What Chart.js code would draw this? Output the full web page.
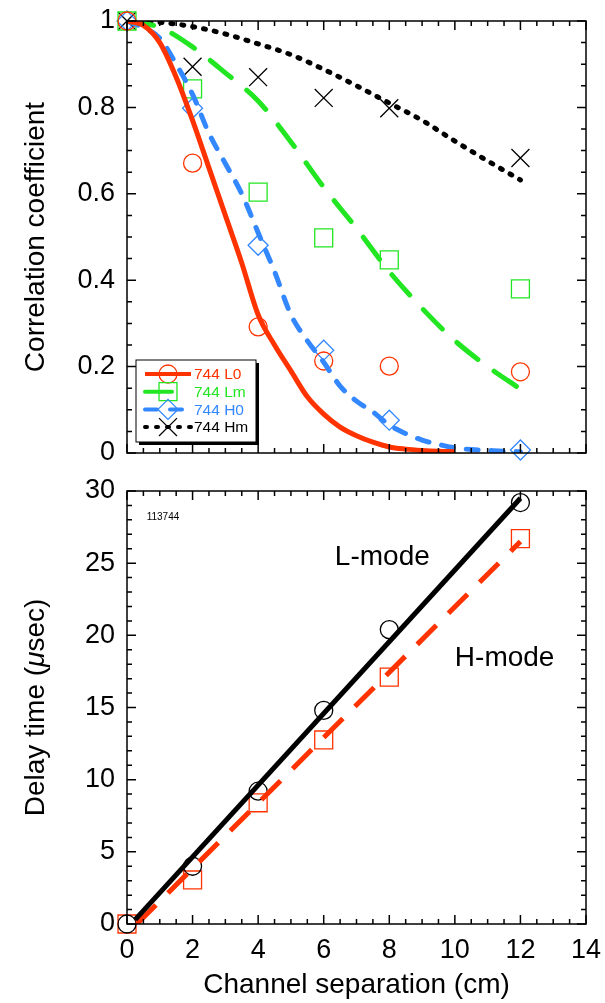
<!DOCTYPE html>
<html>
<head>
<meta charset="utf-8">
<script src="https://cdn.jsdelivr.net/npm/chart.js@4.4.1/dist/chart.umd.min.js"></script>
<style>
  body { margin: 0; background: #fff; }
  canvas { display: block; }
</style>
</head>
<body>
<canvas id="corr_chart" width="605" height="470"></canvas>
<canvas id="delay_chart" width="605" height="533"></canvas>
<script>
// measured points (channel separation in cm)
var sepX = [0, 2, 4, 6, 8, 12];
var corrL0 = [1, 0.671, 0.292, 0.213, 0.201, 0.188];
var corrLm = [1, 0.843, 0.604, 0.498, 0.447, 0.380];
var corrH0 = [1, 0.798, 0.481, 0.238, 0.076, 0.007];
var corrHm = [1, 0.894, 0.870, 0.822, 0.798, 0.683];

// fitted curves
var fitL0X = [0, 0.5, 1, 1.5, 2, 2.5, 3, 3.5, 4, 4.5, 5, 5.5, 6, 6.5, 7, 7.5, 8, 8.5, 9, 9.5, 10];
var fitL0Y = [1, 0.99, 0.95, 0.87, 0.77, 0.66, 0.55, 0.44, 0.32, 0.25, 0.19, 0.13, 0.09, 0.06, 0.04, 0.025, 0.014, 0.009, 0.006, 0.004, 0.003];
var fitLmX = [0, 1, 2, 3, 4, 5, 6, 7, 8, 9, 10, 11, 12];
var fitLmY = [1, 0.985, 0.94, 0.88, 0.815, 0.72, 0.615, 0.52, 0.42, 0.335, 0.26, 0.2, 0.148];
var fitH0X = [0, 0.5, 1, 1.5, 2, 2.5, 3, 3.5, 4, 4.5, 5, 5.5, 6, 6.5, 7, 7.5, 8, 8.5, 9, 9.5, 10, 10.5, 11, 11.5, 12];
var fitH0Y = [1, 0.985, 0.96, 0.9, 0.83, 0.74, 0.67, 0.6, 0.51, 0.42, 0.32, 0.26, 0.21, 0.155, 0.12, 0.095, 0.065, 0.045, 0.03, 0.02, 0.012, 0.008, 0.006, 0.004, 0.003];
var fitHmX = [0, 1, 2, 3, 4, 5, 6, 7, 8, 9, 10, 11, 12];
var fitHmY = [1, 0.997, 0.987, 0.97, 0.947, 0.922, 0.888, 0.85, 0.81, 0.77, 0.722, 0.676, 0.632];

// delay times (usec)
var delayL = [0, 4.0, 9.2, 14.8, 20.4, 29.2];
var delayH = [0, 3.05, 8.4, 12.75, 17.1, 26.7];
var lineLX = [0.25, 12];
var lineLY = [0.3, 29.5];
var lineHX = [0.3, 12];
var lineHY = [0, 26.5];

var legendLabels = ['744 L0', '744 Lm', '744 H0', '744 Hm'];

/////////////////////////////////////////////////////////

var FONT = "'Liberation Sans', Arial, Helvetica, sans-serif";
Chart.defaults.font.family = FONT;
Chart.defaults.color = '#000';

var RED = '#ff3300', GREEN = '#22e622', BLUE = '#3388ff', BLACK = '#000000';

function xy(xs, ys) {
  return xs.map(function(x, i) { return { x: x, y: ys[i] }; });
}

var corrStyles = [
  { label: legendLabels[0], color: RED,   dash: [],      cap: 'butt',  point: 'circle',   r: 9 },
  { label: legendLabels[1], color: GREEN, dash: [27, 20], cap: 'round', point: 'rect',     r: 12.7 },
  { label: legendLabels[2], color: BLUE,  dash: [12, 13], cap: 'round', point: 'rectRot',  r: 10 },
  { label: legendLabels[3], color: BLACK, dash: [2, 9],   cap: 'round', point: 'crossRot', r: 12.7 }
];

function fitSet(xs, ys, s) {
  return {
    data: xy(xs, ys),
    borderColor: s.color,
    borderWidth: 5,
    borderDash: s.dash,
    borderCapStyle: s.cap,
    pointRadius: 0,
    fill: false,
    cubicInterpolationMode: 'monotone'
  };
}

function markSet(xs, ys, s) {
  return {
    data: xy(xs, ys),
    showLine: false,
    borderColor: s.color,
    backgroundColor: 'rgba(0,0,0,0)',
    pointStyle: s.point,
    pointRadius: s.r,
    pointBorderWidth: 1.3,
    clip: false
  };
}

// keep the plot box fixed: no extra padding from tick labels
function fixWidth(w) {
  return function(s) {
    s.width = w;
    s.paddingTop = 0; s.paddingBottom = 0; s.paddingLeft = 0; s.paddingRight = 0;
  };
}
function fixHeight(h) {
  return function(s) {
    s.height = h;
    s.paddingTop = 0; s.paddingBottom = 0; s.paddingLeft = 0; s.paddingRight = 0;
  };
}

function plainNum(v) {
  return String(Math.round(v * 100) / 100);
}

// inward ticks on all four sides + frame
var frameTicks = {
  id: 'frameTicks',
  afterDatasetsDraw: function(chart, args, o) {
    var a = chart.chartArea, xs = chart.scales.x, ys = chart.scales.y, ctx = chart.ctx;
    ctx.save();
    ctx.strokeStyle = '#000';
    ctx.lineWidth = 1.5;
    ctx.strokeRect(a.left, a.top, a.right - a.left, a.bottom - a.top);
    ctx.beginPath();
    var i, v, p, len, n;
    n = Math.round((xs.max - xs.min) / o.xMinor);
    for (i = 0; i <= n; i++) {
      v = xs.min + i * o.xMinor;
      len = Math.abs(v / o.xMajor - Math.round(v / o.xMajor)) < 1e-6 ? 9 : 5;
      p = xs.getPixelForValue(v);
      ctx.moveTo(p, a.bottom); ctx.lineTo(p, a.bottom - len);
      ctx.moveTo(p, a.top); ctx.lineTo(p, a.top + len);
    }
    n = Math.round((ys.max - ys.min) / o.yMinor);
    for (i = 0; i <= n; i++) {
      v = ys.min + i * o.yMinor;
      len = Math.abs(v / o.yMajor - Math.round(v / o.yMajor)) < 1e-6 ? 9 : 5;
      p = ys.getPixelForValue(v);
      ctx.moveTo(a.left, p); ctx.lineTo(a.left + len, p);
      ctx.moveTo(a.right, p); ctx.lineTo(a.right - len, p);
    }
    ctx.stroke();
    ctx.restore();
  }
};

// boxed legend with drop shadow, line sample + marker
var boxLegend = {
  id: 'boxLegend',
  afterDraw: function(chart, args, o) {
    var ctx = chart.ctx, a = chart.chartArea;
    var left = a.left + 9, top = a.bottom - 93, w = 120, h = 82;
    ctx.save();
    ctx.fillStyle = '#000';
    ctx.fillRect(left + 3, top + 3, w, h);
    ctx.fillStyle = '#fff';
    ctx.fillRect(left, top, w, h);
    ctx.strokeStyle = '#000';
    ctx.lineWidth = 1;
    ctx.strokeRect(left, top, w, h);
    o.items.forEach(function(s, i) {
      var y = top + 14 + i * 17.7;
      ctx.save();
      ctx.strokeStyle = s.color;
      ctx.lineWidth = 4;
      ctx.lineCap = s.cap;
      ctx.setLineDash(s.dash);
      ctx.beginPath();
      ctx.moveTo(left + 9, y);
      ctx.lineTo(left + 55, y);
      ctx.stroke();
      ctx.restore();
      ctx.save();
      ctx.strokeStyle = s.color;
      ctx.fillStyle = 'rgba(0,0,0,0)';
      ctx.lineWidth = 1.3;
      Chart.helpers.drawPoint(ctx, { pointStyle: s.point, radius: s.r, borderWidth: 1.3, rotation: 0 }, left + 32, y);
      ctx.restore();
      ctx.fillStyle = s.color;
      ctx.font = "15.5px " + FONT;
      ctx.textBaseline = 'middle';
      ctx.textAlign = 'left';
      ctx.fillText(s.label, left + 58, y + 1);
    });
    ctx.restore();
  }
};

// free text notes placed in data coordinates
var notes = {
  id: 'notes',
  afterDraw: function(chart, args, o) {
    var ctx = chart.ctx;
    ctx.save();
    ctx.fillStyle = '#000';
    ctx.textBaseline = 'middle';
    ctx.textAlign = 'left';
    o.items.forEach(function(n) {
      ctx.font = n.size + "px " + FONT;
      ctx.fillText(n.text, chart.scales.x.getPixelForValue(n.x), chart.scales.y.getPixelForValue(n.y));
    });
    // y axis title with italic mu
    if (o.yTitle) {
      var a = chart.chartArea;
      var parts = o.yTitle;
      ctx.translate(36, (a.top + a.bottom) / 2);
      ctx.rotate(-Math.PI / 2);
      var total = 0;
      parts.forEach(function(p) {
        ctx.font = (p.italic ? 'italic ' : '') + "28px " + FONT;
        total += ctx.measureText(p.text).width;
      });
      var x = -total / 2;
      parts.forEach(function(p) {
        ctx.font = (p.italic ? 'italic ' : '') + "28px " + FONT;
        ctx.fillText(p.text, x, 0);
        x += ctx.measureText(p.text).width;
      });
    }
    ctx.restore();
  }
};

var tickFont = { size: 27 };

/////////////////////////////////////////////////////////

var corrCanvas = document.getElementById('corr_chart');
var corrData = {
  datasets: [
    fitSet(fitL0X, fitL0Y, corrStyles[0]),
    fitSet(fitLmX, fitLmY, corrStyles[1]),
    fitSet(fitH0X, fitH0Y, corrStyles[2]),
    fitSet(fitHmX, fitHmY, corrStyles[3]),
    markSet(sepX, corrL0, corrStyles[0]),
    markSet(sepX, corrLm, corrStyles[1]),
    markSet(sepX, corrH0, corrStyles[2]),
    markSet(sepX, corrHm, corrStyles[3])
  ]
};

new Chart(corrCanvas, {
  type: 'line',
  data: corrData,
  options: {
    responsive: false,
    animation: false,
    devicePixelRatio: 1,
    layout: { padding: { top: 21, right: 19, left: 0, bottom: 0 } },
    plugins: {
      legend: { display: false },
      tooltip: { enabled: false },
      frameTicks: { xMinor: 0.5, xMajor: 2, yMinor: 0.05, yMajor: 0.2 },
      boxLegend: { items: corrStyles }
    },
    scales: {
      x: {
        type: 'linear', min: 0, max: 14,
        grid: { display: false, drawTicks: false },
        border: { display: false },
        ticks: { display: false, stepSize: 2 },
        afterFit: fixHeight(17)
      },
      y: {
        type: 'linear', min: 0, max: 1,
        grid: { display: false, drawTicks: false },
        border: { display: false },
        ticks: { stepSize: 0.2, padding: 12, font: tickFont, callback: plainNum },
        title: { display: true, text: 'Correlation coefficient', font: { size: 28 }, padding: { top: 19 } },
        afterFit: fixWidth(127)
      }
    }
  },
  plugins: [frameTicks, boxLegend]
});

/////////////////////////////////////////////////////////

var delayCanvas = document.getElementById('delay_chart');
var lStyle = { color: BLACK, point: 'circle', r: 9 };
var hStyle = { color: RED, point: 'rect', r: 12.7 };

var delayData = {
  datasets: [
    { data: xy(lineLX, lineLY), borderColor: BLACK, borderWidth: 5, pointRadius: 0, fill: false },
    { data: xy(lineHX, lineHY), borderColor: RED, borderWidth: 5, borderDash: [27, 17], pointRadius: 0, fill: false },
    markSet(sepX, delayL, lStyle),
    markSet(sepX, delayH, hStyle)
  ]
};

new Chart(delayCanvas, {
  type: 'line',
  data: delayData,
  options: {
    responsive: false,
    animation: false,
    devicePixelRatio: 1,
    layout: { padding: { top: 21, right: 19, left: 0, bottom: 0 } },
    plugins: {
      legend: { display: false },
      tooltip: { enabled: false },
      frameTicks: { xMinor: 0.5, xMajor: 2, yMinor: 1, yMajor: 5 },
      notes: {
        items: [
          { text: '113744', x: 0.6, y: 28.2, size: 10 },
          { text: 'L-mode', x: 6.34, y: 25.4, size: 28 },
          { text: 'H-mode', x: 10.0, y: 18.4, size: 28 }
        ],
        yTitle: [
          { text: 'Delay time (' },
          { text: '\u03bc', italic: true },
          { text: 'sec)' }
        ]
      }
    },
    scales: {
      x: {
        type: 'linear', min: 0, max: 14,
        grid: { display: false, drawTicks: false },
        border: { display: false },
        ticks: { stepSize: 2, padding: 10, font: tickFont, maxRotation: 0 },
        title: { display: true, text: 'Channel separation (cm)', font: { size: 28 }, padding: { bottom: 1 } },
        afterFit: fixHeight(79)
      },
      y: {
        type: 'linear', min: 0, max: 30,
        grid: { display: false, drawTicks: false },
        border: { display: false },
        ticks: { stepSize: 5, padding: 12, font: tickFont },
        afterFit: fixWidth(127)
      }
    }
  },
  plugins: [frameTicks, notes]
});
</script>
</body>
</html>
